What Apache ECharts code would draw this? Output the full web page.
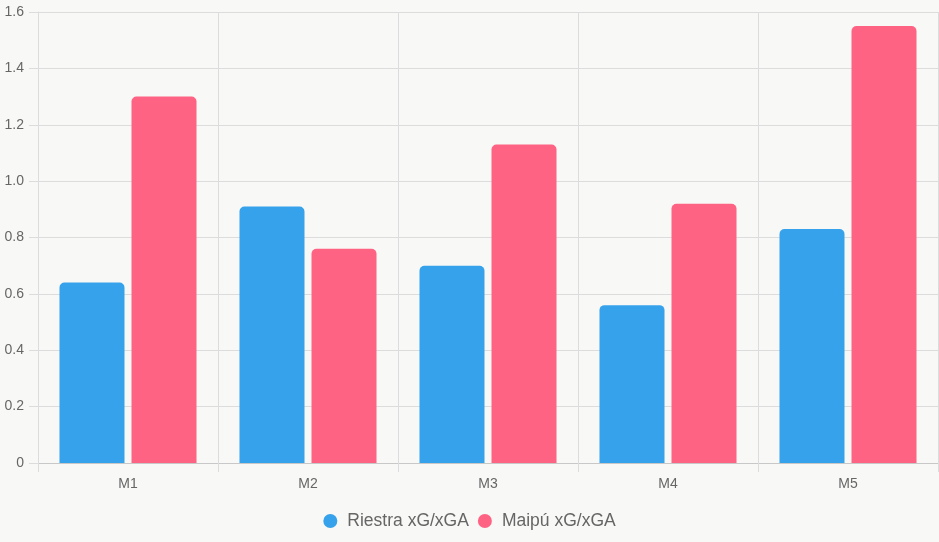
<!DOCTYPE html>
<html>
<head>
<meta charset="utf-8">
<script src="https://cdn.jsdelivr.net/npm/echarts@6/dist/echarts.min.js"></script>
<style>
html,body{margin:0;padding:0;background:#f8f8f6;}
#chart{width:939px;height:542px;}
</style>
</head>
<body>
<div id="chart"></div>
<script>
const categories = ['M1', 'M2', 'M3', 'M4', 'M5'];
const riestra = [0.64, 0.91, 0.70, 0.56, 0.83];
const maipu = [1.30, 0.76, 1.13, 0.92, 1.55];
const seriesNames = ['Riestra xG/xGA', 'Maipú xG/xGA'];

const chart = echarts.init(document.getElementById('chart'));
const font = '"Liberation Sans", Arial, Helvetica, sans-serif';
chart.setOption({
  backgroundColor: '#f8f8f6',
  animation: false,
  textStyle: { fontFamily: font },
  grid: { left: 38, right: 1, top: 12, bottom: 79, containLabel: false },
  legend: {
    bottom: 7,
    left: 'center',
    icon: 'circle',
    itemWidth: 24,
    itemHeight: 14,
    itemGap: 9,
    textStyle: { fontSize: 17.5, color: '#666', fontFamily: font },
    data: seriesNames
  },
  xAxis: {
    type: 'category',
    data: categories,
    boundaryGap: true,
    axisLine: { lineStyle: { color: '#c8c8c8' } },
    axisTick: { show: true, length: 9, lineStyle: { color: '#dcdcdc' } },
    axisLabel: { color: '#666', fontSize: 14, margin: 14, fontFamily: font },
    splitLine: { show: true, lineStyle: { color: '#dcdcdc' } }
  },
  yAxis: {
    type: 'value',
    min: 0,
    max: 1.6,
    interval: 0.2,
    axisLine: { show: true, lineStyle: { color: '#dcdcdc' } },
    axisTick: { show: true, length: 9, lineStyle: { color: '#dcdcdc' } },
    axisLabel: {
      color: '#666', fontSize: 14, margin: 14, fontFamily: font,
      formatter: v => (v === 0 ? '0' : v.toFixed(1))
    },
    splitLine: { show: true, lineStyle: { color: '#dcdcdc' } }
  },
  series: [
    {
      name: seriesNames[0],
      type: 'bar',
      data: riestra,
      barWidth: 65,
      barGap: '10.8%',
      itemStyle: { color: '#36A2EB', borderRadius: [5, 5, 0, 0] }
    },
    {
      name: seriesNames[1],
      type: 'bar',
      data: maipu,
      barWidth: 65,
      barGap: '10.8%',
      itemStyle: { color: '#FF6384', borderRadius: [5, 5, 0, 0] }
    }
  ]
});
</script>
</body>
</html>
